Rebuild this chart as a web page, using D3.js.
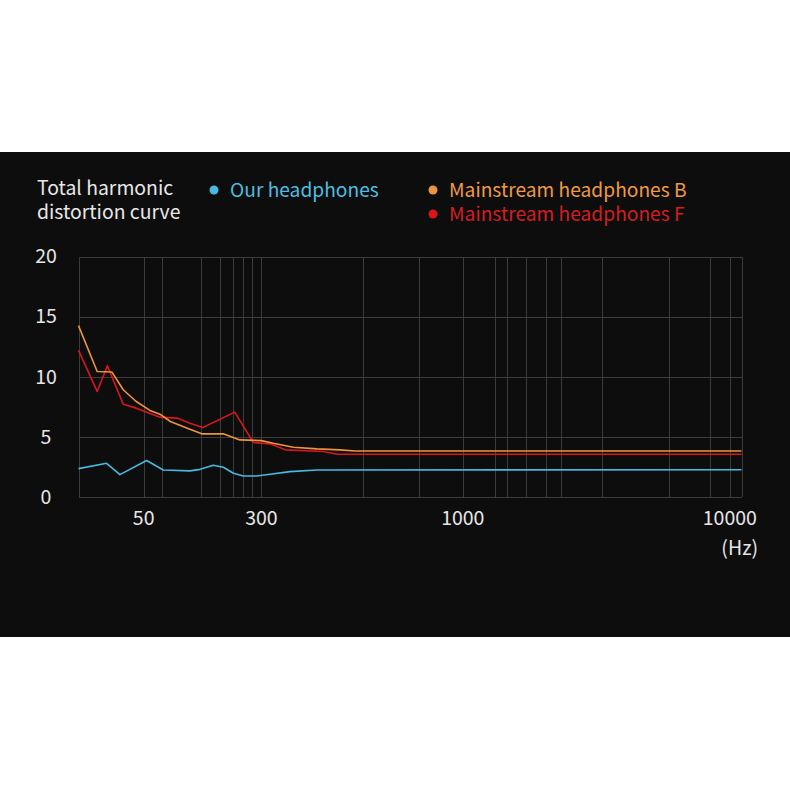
<!DOCTYPE html>
<html>
<head>
<meta charset="utf-8">
<script src="https://cdn.jsdelivr.net/npm/d3@7"></script>
<style>
  html, body { margin: 0; padding: 0; background: #ffffff; }
  svg { display: block; }
</style>
</head>
<body>
<svg id="chart" width="790" height="790"></svg>
<script>
// ---------- data ----------
const titleLines = ["Total harmonic", "distortion curve"];
const seriesNames = ["Our headphones", "Mainstream headphones B", "Mainstream headphones F"];

// [frequency Hz, THD]
const ourHeadphones = [
  [20, 2.36], [29.7, 2.8], [35.8, 1.86], [52.3, 3.03], [67.4, 2.25], [101, 2.17],
  [118, 2.3], [144, 2.64], [168, 2.47], [196, 1.97], [228, 1.75], [279, 1.75],
  [316, 1.89], [356, 2.11], [418, 2.25], [11050, 2.27]
];
const headphonesB = [
  [20, 14.25], [26, 10.44], [32, 10.39], [37.5, 8.92], [45, 7.94], [55, 7.2],
  [64, 6.89], [75, 6.28], [101, 5.64], [121, 5.25], [168, 5.25], [216, 4.75],
  [300, 4.69], [322, 4.47], [363, 4.14], [418, 4.0], [480, 3.92], [525, 3.83],
  [11050, 3.83]
];
const headphonesF = [
  [20, 12.2], [26, 8.78], [30, 10.92], [37.5, 7.72], [45, 7.39], [64, 6.64],
  [83, 6.56], [101, 6.14], [123, 5.78], [200, 7.06], [265, 4.53], [316, 4.42],
  [346, 3.92], [434, 3.78], [471, 3.55], [11050, 3.55]
];

const xTickLabels = [50, 300, 1000, 10000];
const xGridFreqs = [20, 50, 66, 120, 160, 195, 225, 260, 300, 550, 770, 1000,
  1320, 1470, 1730, 2050, 2340, 3320, 5930, 8410, 10000, 11050];
const yTicks = [0, 5, 10, 15, 20];
const xUnit = "(Hz)";

// ---------- layout ----------
const svg = d3.select("#chart");
const W = 790, H = 790;
const colors = { ours: "#48b9e0", B: "#ee943e", F: "#d8161b" };
const textColors = { ours: "#4fbde0", B: "#ee9a48", F: "#d41d1f" };

svg.append("rect").attr("x", 0).attr("y", 152).attr("width", W).attr("height", 485)
  .attr("fill", "#0d0d0d");

// piecewise log scale (the original axis is non-uniform)
const x = d3.scaleLog()
  .domain([20, 50, 300, 1000, 10000, 11050])
  .range([78.5, 143.7, 261.4, 462.8, 729.8, 741.5]);
const y = d3.scaleLinear().domain([0, 20]).range([497, 256.5]);

const grid = svg.append("g").attr("stroke", "#3c3c3c").attr("stroke-width", 1)
  .attr("shape-rendering", "crispEdges");
grid.selectAll("line.v").data(xGridFreqs).join("line").attr("class", "v")
  .attr("x1", d => Math.round(x(d)) + 0.5).attr("x2", d => Math.round(x(d)) + 0.5)
  .attr("y1", y(20)).attr("y2", y(0));
grid.selectAll("line.h").data(yTicks).join("line").attr("class", "h")
  .attr("x1", x(20)).attr("x2", x(11050))
  .attr("y1", d => Math.round(y(d)) + 0.5).attr("y2", d => Math.round(y(d)) + 0.5);

const font = "'Noto Sans CJK SC', 'Noto Sans', sans-serif";

// y tick labels
svg.append("g").selectAll("text").data(yTicks).join("text")
  .attr("x", 46).attr("y", d => y(d)).attr("dy", "0.35em")
  .attr("text-anchor", "middle").attr("fill", "#e6e6e6")
  .attr("font-family", font).attr("font-size", 19.5)
  .text(d => d);

// x tick labels
svg.append("g").selectAll("text").data(xTickLabels).join("text")
  .attr("x", d => x(d)).attr("y", 518).attr("dy", "0.35em")
  .attr("text-anchor", "middle").attr("fill", "#e6e6e6")
  .attr("font-family", font).attr("font-size", 19.5)
  .text(d => d);
svg.append("text").attr("x", 758).attr("y", 548).attr("dy", "0.35em")
  .attr("text-anchor", "end").attr("fill", "#e6e6e6")
  .attr("font-family", font).attr("font-size", 19.5).text(xUnit);

// lines
const line = d3.line().x(d => x(d[0])).y(d => y(d[1]));
const series = [
  { data: headphonesF, color: colors.F },
  { data: headphonesB, color: colors.B },
  { data: ourHeadphones, color: colors.ours }
];
svg.append("g").selectAll("path").data(series).join("path")
  .attr("d", d => line(d.data)).attr("fill", "none")
  .attr("stroke", d => d.color).attr("stroke-width", 1.6)
  .attr("stroke-linejoin", "round");

// title (one text element, two lines)
const title = svg.append("text")
  .attr("x", 37).attr("y", 195)
  .attr("fill", "#e8e8e8").attr("font-family", font).attr("font-size", 19.4);
title.selectAll("tspan").data(titleLines).join("tspan")
  .attr("x", 37).attr("dy", (d, i) => i === 0 ? 0 : 24)
  .text(d => d);

// legend
const legend = [
  { name: seriesNames[0], c: colors.ours, t: textColors.ours, lx: 214, ly: 190 },
  { name: seriesNames[1], c: colors.B, t: textColors.B, lx: 433, ly: 190 },
  { name: seriesNames[2], c: colors.F, t: textColors.F, lx: 433, ly: 214 }
];
const lg = svg.append("g").selectAll("g").data(legend).join("g");
lg.append("circle").attr("cx", d => d.lx).attr("cy", d => d.ly).attr("r", 4.5)
  .attr("fill", d => d.c);
lg.append("text").attr("x", d => d.lx + 16).attr("y", d => d.ly).attr("dy", "0.35em")
  .attr("fill", d => d.t).attr("font-family", font).attr("font-size", 19.2)
  .text(d => d.name);
</script>
</body>
</html>
